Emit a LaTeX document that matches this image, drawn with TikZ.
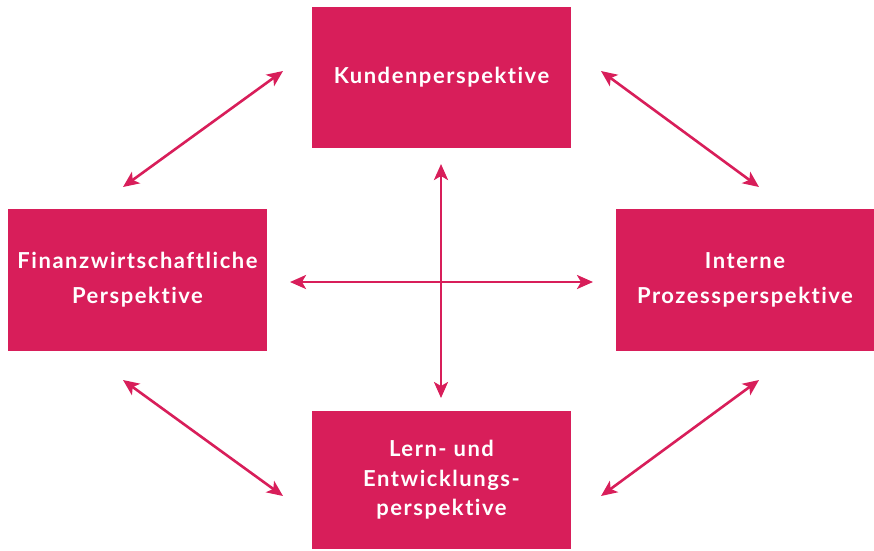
\documentclass[tikz,border=0pt]{standalone}
\usepackage{fontspec}
\setmainfont{Lato}[Ligatures={NoCommon,NoRequired,NoContextual},LetterSpace=7]
\usetikzlibrary{arrows.meta}
\definecolor{mag}{HTML}{D81E5A}
\begin{document}
\begin{tikzpicture}[x=1pt,y=-1pt,
  box/.style={fill=mag, text=white, font=\bfseries\fontsize{22}{35}\selectfont,
    align=center, inner sep=0pt, minimum width=259pt, minimum height=141pt},
  link/.style={draw=mag, line width=2.6pt,
    {Stealth[length=16pt,width=14pt,inset=4pt]}-{Stealth[length=16pt,width=14pt,inset=4pt]}}]
\useasboundingbox (0,0) rectangle (874,550);
\node[box] (K) at (441.5,77.5) {Kundenperspektive};
\node[box, minimum height=142pt] (F) at (137.5,280) {Finanzwirtschaftliche\\Perspektive};
\node[box, minimum width=258pt, minimum height=142pt] (P) at (745,280) {Interne\\Prozessperspektive};
\node[box, minimum height=138pt, font=\bfseries\fontsize{22}{29.5}\selectfont] (L) at (441.5,480) {Lern- und\\Entwicklungs-\\perspektive};
\coordinate (a1) at (123,187); \coordinate (a2) at (283,71);
\coordinate (b1) at (601,71);  \coordinate (b2) at (759,187);
\coordinate (c1) at (123,380); \coordinate (c2) at (283,496);
\coordinate (d1) at (601,496); \coordinate (d2) at (759,380);
\coordinate (h1) at (290,282); \coordinate (h2) at (593,282);
\coordinate (v1) at (441,164); \coordinate (v2) at (441,398);
\draw[link] (a1) -- (a2);
\draw[link] (b1) -- (b2);
\draw[link] (c1) -- (c2);
\draw[link] (d1) -- (d2);
\draw[link] (h1) -- (h2);
\draw[link] (v1) -- (v2);
\end{tikzpicture}
\end{document}
